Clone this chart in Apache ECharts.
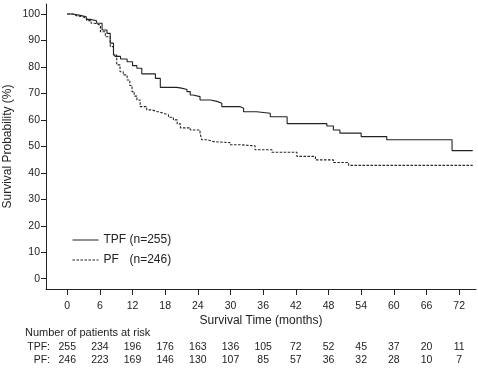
<!DOCTYPE html>
<html>
<head>
<meta charset="utf-8">
<script src="https://cdn.jsdelivr.net/npm/echarts@6/dist/echarts.min.js"></script>
<style>html,body{margin:0;padding:0;background:#fff}#c{width:478px;height:371px}</style>
</head>
<body>
<div id="c"></div>
<script>
const xTicks = [0, 6, 12, 18, 24, 30, 36, 42, 48, 54, 60, 66, 72];
const yTicks = [0, 10, 20, 30, 40, 50, 60, 70, 80, 90, 100];
const tpfRisk = [255, 234, 196, 176, 163, 136, 105, 72, 52, 45, 37, 20, 11];
const pfRisk = [246, 223, 169, 146, 130, 107, 85, 57, 36, 32, 28, 10, 7];
const tpfCurve = [
  [0, 100], [1, 99.5], [2.4, 99], [3.5, 98], [4.2, 97.5], [5.4, 96.5], [6.4, 94], [7.3, 92.7],
  [7.9, 89], [8.5, 85], [8.8, 84], [9.8, 83], [11, 82], [12, 80.5], [12.8, 79.5], [13.7, 77.4],
  [16.2, 75.7], [17.1, 72.3], [20.1, 72], [21, 71.5], [22, 70.7], [22.6, 69.4], [23.1, 68.8],
  [24.4, 67.5], [26.3, 67], [27.5, 66.3], [28.4, 65], [31.8, 64.4], [32.4, 63.1], [34.8, 62.5],
  [37.3, 61.2], [40.4, 58.6], [47.7, 57.7], [48.9, 56.2], [50.1, 55], [54, 53.7], [58.7, 52.5],
  [70.7, 48.4], [74.5, 48.4]
];
const pfCurve = [
  [0, 100], [1, 99.3], [1.8, 99], [2.8, 98.3], [3.6, 97.5], [4.4, 96.5], [5.1, 95.8], [6.1, 93.3],
  [7, 91.4], [7.9, 87.7], [8.5, 84.5], [9.1, 80.8], [9.7, 78.2], [10.3, 77], [11, 75.1], [11.5, 73],
  [11.9, 70.7], [12.3, 69], [12.8, 67.5], [13.4, 65], [14.6, 63.8], [15.5, 63.2], [16.5, 62.5],
  [17.7, 61.9], [18.6, 61], [19.5, 60], [20.2, 58.5], [20.8, 57], [22.6, 56.2], [24.4, 55],
  [24.7, 52.5], [25.8, 51.8], [26.9, 51.4], [29.9, 50.6], [31.8, 50.2], [34.5, 48.7], [37.6, 47.8],
  [42.2, 46.2], [45.6, 44.9], [48.9, 43.9], [51.7, 42.8], [74.5, 42.8]
];
const seriesNames = ['TPF', 'PF'];
const seriesN = [255, 246];

const ink = '#222';
const font = 'Liberation Sans, Arial, sans-serif';
const chart = echarts.init(document.getElementById('c'), null, {renderer: 'canvas'});
chart.setOption({
  animation: false,
  backgroundColor: '#fff',
  grid: {left: 46, top: 4, right: 2, bottom: 82, containLabel: false, outerBoundsMode: 'none'},
  xAxis: {
    type: 'value', min: -3.9, max: 75.1,
    name: 'Survival Time (months)', nameLocation: 'middle', nameGap: 26, nameMoveOverlap: false,
    nameTextStyle: {color: ink, fontSize: 12, fontFamily: font},
    axisLine: {show: true, onZero: false, lineStyle: {color: ink, width: 1}},
    axisTick: {show: true, length: 6, lineStyle: {color: ink}, customValues: xTicks},
    axisLabel: {color: ink, fontSize: 10.5, fontFamily: font, margin: 12, customValues: xTicks},
    splitLine: {show: false}
  },
  yAxis: {
    type: 'value', min: -3.9, max: 103.8,
    name: 'Survival Probability (%)', nameLocation: 'middle', nameGap: 32, nameMoveOverlap: false,
    nameTextStyle: {color: ink, fontSize: 12, fontFamily: font},
    axisLine: {show: true, onZero: false, lineStyle: {color: ink, width: 1}},
    axisTick: {show: true, length: 5, lineStyle: {color: ink}, customValues: yTicks},
    axisLabel: {color: ink, fontSize: 10.5, fontFamily: font, margin: 6, customValues: yTicks},
    splitLine: {show: false}
  },
  legend: {
    left: 67, top: 229, orient: 'vertical', itemWidth: 26, itemHeight: 14, itemGap: 8,
    data: seriesNames,
    itemStyle: {opacity: 0},
    lineStyle: {width: 1},
    formatter: function (name) {
      const i = seriesNames.indexOf(name);
      return '{a|' + name + '}{b|(n=' + seriesN[i] + ')}';
    },
    textStyle: {
      color: ink, fontSize: 12, fontFamily: font,
      rich: {a: {width: 26, fontSize: 12, fontFamily: font, color: ink}, b: {fontSize: 12, fontFamily: font, color: ink}}
    }
  },
  series: [
    {name: 'TPF', type: 'line', step: 'end', data: tpfCurve, showSymbol: false, symbol: 'none',
     lineStyle: {color: ink, width: 1.1, type: 'solid'}, itemStyle: {color: ink}},
    {name: 'PF', type: 'line', step: 'end', data: pfCurve, showSymbol: false, symbol: 'none',
     lineStyle: {color: ink, width: 1.1, type: [2.5, 1.5]}, itemStyle: {color: ink}}
  ]
});

const g = [];
g.push({type: 'text', left: 25, top: 327, style: {text: 'Number of patients at risk', fill: ink, font: '11px ' + font}});
const rows = [['TPF:', tpfRisk, 347], ['PF:', pfRisk, 360]];
rows.forEach(function (r) {
  g.push({type: 'text', x: 50, y: r[2], style: {text: r[0], fill: ink, font: '10.5px ' + font, align: 'right', verticalAlign: 'middle'}});
  xTicks.forEach(function (t, i) {
    const px = chart.convertToPixel({xAxisIndex: 0}, t);
    g.push({type: 'text', x: px, y: r[2], style: {text: String(r[1][i]), fill: ink, font: '10.5px ' + font, align: 'center', verticalAlign: 'middle'}});
  });
});
chart.setOption({graphic: g});
</script>
</body>
</html>
